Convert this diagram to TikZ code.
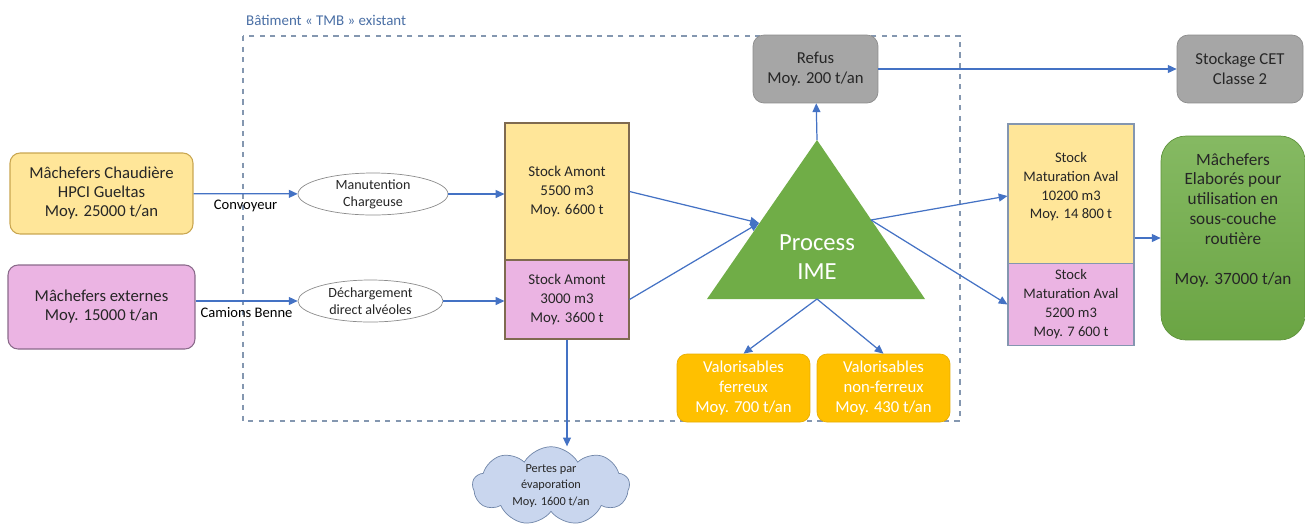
\documentclass[tikz,border=0pt]{standalone}
\usepackage{fontspec}
\setmainfont{Carlito}
\usetikzlibrary{shapes.geometric,shapes.symbols,arrows.meta}
\definecolor{arrowblue}{HTML}{4472C4}
\definecolor{framegray}{HTML}{8497B0}
\definecolor{titleblue}{HTML}{4A6FA5}
\definecolor{txtdark}{HTML}{262626}
\definecolor{yelfill}{HTML}{FFE699}
\definecolor{yeldraw}{HTML}{C9A650}
\definecolor{pinkfill}{HTML}{EBB4E3}
\definecolor{pinkdraw}{HTML}{8A6A8A}
\definecolor{stockdraw}{HTML}{7F6A50}
\definecolor{matdraw}{HTML}{8496B0}
\definecolor{grayfill}{HTML}{A6A6A6}
\definecolor{graydraw}{HTML}{8C8C8C}
\definecolor{orfill}{HTML}{FFC000}
\definecolor{ordraw}{HTML}{E8AE00}
\definecolor{imegreen}{HTML}{70AD47}
\definecolor{cloudfill}{HTML}{C9D6EE}
\definecolor{clouddraw}{HTML}{6F85A8}

\begin{document}
\begin{tikzpicture}[x=0.02cm, y=-0.02cm,
    every node/.style={font=\fontsize{8.5}{10.8}\selectfont, align=center, text=txtdark},
    flow/.style={draw=arrowblue, line width=0.7pt, -{Triangle[length=5pt,width=4.5pt]}},
    srcbox/.style={draw, rectangle, rounded corners=0.2cm, line width=0.6pt, font=\fontsize{9.5}{10.8}\selectfont},
    stockbox/.style={draw=stockdraw, rectangle, line width=0.6pt, minimum width=2.48cm},
    matbox/.style={draw=matdraw, rectangle, line width=0.6pt, minimum width=2.52cm, font=\fontsize{8.3}{10.8}\selectfont},
    graybox/.style={draw=graydraw, fill=grayfill, rectangle, rounded corners=0.22cm, minimum height=1.36cm, font=\fontsize{9.5}{11.2}\selectfont},
    valbox/.style={draw=ordraw, fill=orfill, rectangle, rounded corners=0.2cm, minimum width=2.66cm, minimum height=1.36cm, text=white, font=\fontsize{9.5}{11.3}\selectfont},
    handling/.style={draw=graydraw, fill=white, ellipse, inner sep=0pt, minimum height=0.84cm, font=\fontsize{8}{9.6}\selectfont},
    lbl/.style={font=\fontsize{8.3}{10}\selectfont, text=black}]
    \useasboundingbox (0,0) rectangle (1305,525);
    % Building frame
    \draw[framegray, dashed, line width=0.6pt] (243,36) rectangle (960,421);
    \node (titre) [anchor=west, text=titleblue] at (240,20) {Bâtiment « TMB » existant};
    % Nodes
    \node (src1) [srcbox, draw=yeldraw, fill=yelfill, minimum width=3.66cm, minimum height=1.62cm] at (101.5,193.5) {Mâchefers Chaudière\\HPCI Gueltas\\Moy. 25000 t/an};
    \node (src2) [srcbox, draw=pinkdraw, fill=pinkfill, minimum width=3.74cm, minimum height=1.68cm] at (101.5,307) {Mâchefers externes\\Moy. 15000 t/an};
    \node (manut) [handling, minimum width=3cm] at (373,194) {Manutention\\Chargeuse};
    \node (decharg) [handling, minimum width=2.9cm] at (370.5,301) {Déchargement\\direct alvéoles};
    \node (amont1) [stockbox, fill=yelfill, minimum height=2.74cm] at (567,191.5) {Stock Amont\\5500 m3\\Moy. 6600 t};
    \node (amont2) [stockbox, fill=pinkfill, minimum height=1.58cm] at (567,299.5) {Stock Amont\\3000 m3\\Moy. 3600 t};
    % Process triangle
    \coordinate (apex) at (817,140);
    \coordinate (tin) at (759,223);
    \coordinate (tout) at (871,220);
    \coordinate (tbase) at (817,299);
    \fill[imegreen] (apex) -- (707,299) -- (925,299) -- cycle;
    \node (ime) [text=white, font=\fontsize{14}{16.5}\selectfont] at (817,257) {Process\\IME};
    \node (refus) [graybox, minimum width=2.5cm] at (815.5,69) {Refus\\Moy. 200 t/an};
    \node (cet) [graybox, minimum width=2.52cm] at (1240,69) {Stockage CET\\Classe 2};
    \node (fer) [valbox] at (743.5,388) {Valorisables\\ferreux\\Moy. 700 t/an};
    \node (nonfer) [valbox] at (883.5,388) {Valorisables\\non-ferreux\\Moy. 430 t/an};
    \node (mat1) [matbox, fill=yelfill, minimum height=2.88cm, text depth=12pt] at (1071,196) {Stock\\Maturation Aval\\10200 m3\\Moy. 14 800 t};
    \node (mat2) [matbox, fill=pinkfill, minimum height=1.46cm] at (1071,304.5) {Stock\\Maturation Aval\\5200 m3\\Moy. 7 600 t};
    \node (elab) [draw=imegreen!85!black, top color=imegreen!85!white, bottom color=imegreen!95!black, rectangle, rounded corners=0.5cm, minimum width=2.88cm, minimum height=4.08cm, text depth=22pt, font=\fontsize{9.8}{11.3}\selectfont] at (1233,238) {Mâchefers\\Elaborés pour\\utilisation en\\sous-couche\\routière\\[11.3pt]Moy. 37000 t/an};
    \node (pertes) [draw=clouddraw, fill=cloudfill, cloud, cloud puffs=9, cloud puff arc=120, cloud ignores aspect, inner sep=0pt, minimum width=3.14cm, minimum height=1.42cm, font=\fontsize{7}{9.4}\selectfont] at (551,486) {Pertes par\\évaporation\\Moy. 1600 t/an};
    % Arrows
    \draw[flow] (src1) -- node[lbl, below=0pt] {Convoyeur} (manut);
    \draw[flow] (src2.east |- decharg) -- node[lbl, below=0pt] {Camions Benne} (decharg);
    \draw[flow] (manut) -- (amont1.west |- manut);
    \draw[flow] (decharg) -- (amont2.west |- decharg);
    \draw[flow] (amont1.east) -- (tin);
    \draw[flow] (amont2.east) -- (tin);
    \draw[flow] (apex) -- (refus);
    \draw[flow] (refus) -- (cet);
    \draw[flow] (tbase) -- (fer.north);
    \draw[flow] (tbase) -- (nonfer.north);
    \draw[flow] (tout) -- (mat1.west);
    \draw[flow] (tout) -- (mat2.west);
    \draw[flow] (mat1.east |- elab.west) -- (elab.west);
    \draw[flow] (amont2.south) -- (amont2.south |- pertes.north);
  \end{tikzpicture}
\end{document}
